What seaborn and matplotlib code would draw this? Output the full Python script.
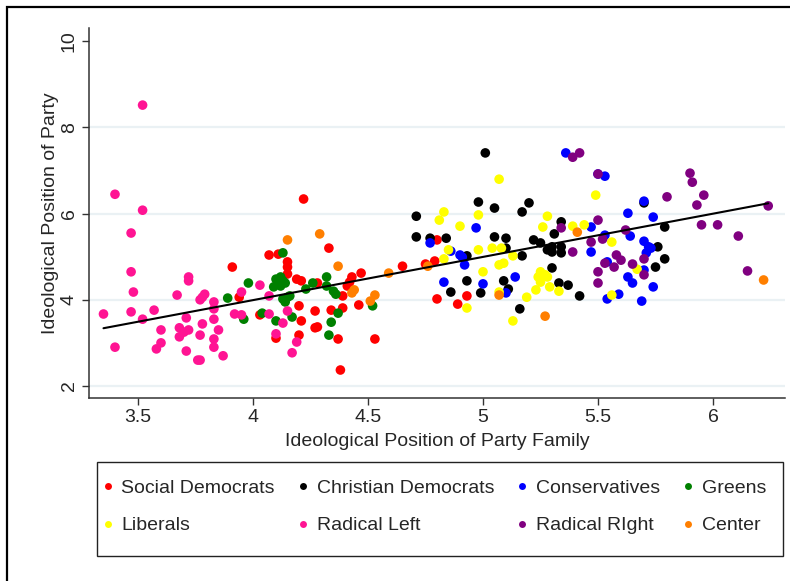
import matplotlib
matplotlib.use("Agg")
import matplotlib.pyplot as plt
from matplotlib.patches import Rectangle
import numpy as np
import pandas as pd
import seaborn as sns

# Party positions: x = family position, y = party position, one pair of lists per family
soc_dem_x = [4.22, 3.91, 4.07, 4.11, 4.15, 4.15, 4.15, 4.19, 4.21, 3.94, 4.03, 4.21, 4.20,
             4.10, 4.20, 4.33, 4.28, 4.47, 4.43, 4.42, 4.41, 4.39, 4.39, 4.46, 4.27, 4.34,
             4.27, 4.28, 4.37, 4.53, 4.38, 4.65, 4.75, 4.79, 4.80, 4.80, 4.89, 4.93]
soc_dem_y = [6.34, 4.76, 5.04, 5.06, 4.88, 4.76, 4.60, 4.48, 4.44, 4.06, 3.65, 3.51, 3.86,
             3.11, 3.18, 5.20, 4.39, 4.62, 4.53, 4.41, 4.32, 4.09, 3.81, 3.88, 3.74, 3.76,
             3.35, 3.37, 3.09, 3.09, 2.37, 4.78, 4.83, 4.90, 5.39, 4.02, 3.90, 4.09]

chr_dem_x = [5.01, 4.98, 5.05, 5.20, 5.17, 4.71, 4.71, 4.77, 4.84, 5.05, 5.10, 5.10, 4.93,
             5.17, 5.22, 5.25, 5.28, 5.30, 5.34, 5.30, 5.34, 5.31, 5.34, 5.30, 4.93, 5.09,
             4.86, 4.99, 5.11, 5.16, 5.33, 5.37, 5.42, 5.70, 5.79, 5.76, 5.75, 5.79]
chr_dem_y = [7.41, 6.27, 6.13, 6.25, 6.04, 5.94, 5.46, 5.43, 5.43, 5.46, 5.43, 5.20, 5.02,
             5.02, 5.39, 5.32, 5.16, 5.23, 5.23, 5.11, 5.09, 5.53, 5.81, 4.74, 4.44, 4.44,
             4.18, 4.16, 4.25, 3.79, 4.39, 4.34, 4.09, 6.25, 5.69, 5.23, 4.76, 4.95]

cons_x = [4.97, 4.77, 4.86, 4.90, 4.91, 4.92, 4.83, 5.00, 5.14, 5.10, 5.36, 5.50, 5.53,
          5.47, 5.63, 5.74, 5.70, 5.64, 5.70, 5.72, 5.73, 5.71, 5.47, 5.54, 5.70, 5.63,
          5.65, 5.74, 5.54, 5.59, 5.69, 5.53]
cons_y = [5.67, 5.32, 5.13, 5.04, 4.99, 4.81, 4.41, 4.37, 4.53, 4.16, 7.41, 6.92, 6.87,
          5.69, 6.01, 5.92, 6.29, 5.48, 5.36, 5.23, 5.20, 5.09, 5.11, 4.88, 4.69, 4.53,
          4.39, 4.30, 4.02, 4.13, 3.97, 5.50]

greens_x = [4.13, 4.12, 4.10, 4.13, 4.11, 4.14, 4.09, 4.12, 3.98, 4.13, 4.15, 4.16, 4.14,
            4.23, 4.26, 4.32, 4.32, 4.35, 4.36, 4.04, 3.96, 4.17, 4.10, 4.37, 4.34, 4.33,
            4.52, 3.89]
greens_y = [5.09, 4.53, 4.48, 4.44, 4.39, 4.39, 4.30, 4.32, 4.39, 4.02, 4.06, 4.09, 3.95,
            4.25, 4.39, 4.53, 4.32, 4.20, 4.13, 3.69, 3.55, 3.60, 3.51, 3.69, 3.48, 3.18,
            3.86, 4.04]

liberals_x = [5.07, 4.83, 4.81, 4.90, 4.98, 4.85, 4.83, 4.98, 5.04, 5.08, 5.13, 5.07, 5.09,
              5.00, 4.93, 5.07, 5.19, 5.13, 5.49, 5.28, 5.26, 5.39, 5.44, 5.56, 5.67, 5.25,
              5.24, 5.27, 5.28, 5.25, 5.23, 5.29, 5.33, 5.56]
liberals_y = [6.80, 6.04, 5.85, 5.71, 5.97, 5.16, 4.95, 5.16, 5.20, 5.20, 5.02, 4.81, 4.85,
              4.65, 3.81, 4.18, 4.06, 3.51, 6.43, 5.94, 5.69, 5.71, 5.74, 5.34, 4.71, 4.65,
              4.53, 4.58, 4.53, 4.41, 4.23, 4.30, 4.20, 4.11]

rad_left_x = [3.52, 3.40, 3.52, 3.47, 3.47, 3.72, 3.72, 3.48, 3.67, 3.79, 3.78, 3.77, 3.83,
              3.95, 3.35, 3.47, 3.57, 3.52, 3.83, 3.71, 3.83, 3.92, 3.95, 3.60, 3.68, 3.72,
              3.68, 3.78, 3.77, 3.85, 3.40, 3.60, 3.58, 3.71, 3.83, 3.83, 3.76, 3.77, 3.87,
              4.03, 4.07, 4.07, 4.13, 4.15, 4.10, 4.19, 4.17, 3.70]
rad_left_y = [8.52, 6.45, 6.08, 5.55, 4.65, 4.53, 4.44, 4.18, 4.11, 4.13, 4.06, 4.00, 3.95,
              4.18, 3.67, 3.72, 3.76, 3.55, 3.79, 3.58, 3.55, 3.67, 3.65, 3.30, 3.35, 3.30,
              3.14, 3.44, 3.18, 3.30, 2.90, 3.00, 2.86, 2.81, 3.09, 2.90, 2.60, 2.60, 2.70,
              4.34, 4.09, 3.67, 3.46, 3.74, 3.21, 3.02, 2.77, 3.25]

rad_right_x = [5.39, 5.42, 5.50, 5.80, 5.50, 5.34, 5.62, 5.47, 5.52, 5.39, 5.58, 5.60, 5.57,
               5.53, 5.50, 5.50, 5.65, 5.70, 5.70, 5.90, 5.91, 5.96, 5.93, 6.24, 5.95, 6.02,
               6.11, 6.15]
rad_right_y = [7.31, 7.41, 6.92, 6.39, 5.85, 5.67, 5.62, 5.34, 5.41, 5.11, 5.04, 4.92, 4.76,
               4.85, 4.65, 4.39, 4.83, 4.95, 4.58, 6.94, 6.73, 6.43, 6.20, 6.18, 5.74, 5.74,
               5.48, 4.67]

center_x = [4.15, 4.29, 4.37, 4.59, 4.44, 4.43, 4.53, 4.51, 4.76, 5.07, 5.27, 5.41, 6.22]
center_y = [5.39, 5.53, 4.78, 4.62, 4.23, 4.16, 4.11, 3.97, 4.78, 4.11, 3.62, 5.57, 4.46]

# fitted values of the linear fit at the ends of the family-position range
fit_x = [3.35, 6.24]
fit_y = [3.34, 6.24]

families = ["Social Democrats", "Christian Democrats", "Conservatives", "Greens",
            "Liberals", "Radical Left", "Radical RIght", "Center"]
family_x = [soc_dem_x, chr_dem_x, cons_x, greens_x, liberals_x, rad_left_x, rad_right_x, center_x]
family_y = [soc_dem_y, chr_dem_y, cons_y, greens_y, liberals_y, rad_left_y, rad_right_y, center_y]
colors = ["#FF0000", "#000000", "#0000FF", "#008000",
          "#FFFF00", "#FF1493", "#800080", "#FF7F00"]

x_ticks = [3.5, 4, 4.5, 5, 5.5, 6]
x_tick_labels = ["3.5", "4", "4.5", "5", "5.5", "6"]
y_ticks = [2, 4, 6, 8, 10]
y_tick_labels = ["2", "4", "6", "8", "10"]

df = pd.concat(
    [pd.DataFrame({"family_pos": fx, "party_pos": fy, "family": name})
     for name, fx, fy in zip(families, family_x, family_y)],
    ignore_index=True,
)
fit_df = pd.DataFrame({"family_pos": fit_x, "fitted": fit_y})

sns.set_theme(style="white")
plt.rcParams["font.family"] = ["Liberation Sans", "DejaVu Sans"]

FS = 14
fig = plt.figure(figsize=(7.9, 5.81), dpi=100)
ax = fig.add_axes([89 / 790, 183 / 581, 696 / 790, 370 / 581])

# horizontal grid
for yv in [2, 4, 6, 8]:
    ax.axhline(yv, color="#EAF1F4", lw=1.6, zorder=0)

sns.scatterplot(data=df, x="family_pos", y="party_pos", hue="family",
                hue_order=families, palette=dict(zip(families, colors)),
                s=48, linewidth=0, edgecolor="none", ax=ax, legend=False, zorder=3)

sns.lineplot(data=fit_df, x="family_pos", y="fitted", color="black", lw=1.5,
             ax=ax, zorder=4)

ax.set_xlim(3.287, 6.313)
ax.set_ylim(1.72, 10.31)
ax.set_xticks(x_ticks)
ax.set_xticklabels(x_tick_labels, fontsize=FS)
ax.set_yticks(y_ticks)
ax.set_yticklabels(y_tick_labels, fontsize=FS, rotation=90, va="center")
ax.tick_params(axis="both", direction="out", length=5, width=1, color="#333333",
               left=True, bottom=True, pad=3)
for side in ["top", "right"]:
    ax.spines[side].set_visible(False)
for side in ["left", "bottom"]:
    ax.spines[side].set_color("#333333")
    ax.spines[side].set_linewidth(1.1)

ax.set_xlabel("Ideological Position of Party Family", fontsize=FS, labelpad=5)
ax.set_ylabel("Ideological Position of Party", fontsize=FS, labelpad=1)

# legend, filled row by row, inside a drawn box
handles = [plt.Line2D([], [], ls="none", marker="o", markersize=5,
                      markerfacecolor=c, markeredgecolor="none") for c in colors]
order = [0, 4, 1, 5, 2, 6, 3, 7]
leg = fig.legend([handles[i] for i in order], [families[i] for i in order],
                 ncol=4, loc="center", mode="expand",
                 bbox_to_anchor=(102 / 790, (581 - 507) / 581, 664 / 790, 0.0),
                 bbox_transform=fig.transFigure, fontsize=FS, frameon=False,
                 borderpad=0.0, labelspacing=1.0, handlelength=0.6,
                 handletextpad=0.4, columnspacing=1.0, borderaxespad=0)
fig.patches.append(Rectangle((97 / 790, (581 - 556) / 581), 686 / 790, 94 / 581,
                             transform=fig.transFigure, fill=False,
                             edgecolor="#222222", lw=1.0))

# outer frame of the graph region
fig.patches.append(Rectangle((7 / 790, -0.5), 2.0, (581 - 7) / 581 + 0.5,
                             transform=fig.transFigure, fill=False,
                             edgecolor="black", lw=1.6))

fig.savefig("out.png", dpi=100)
